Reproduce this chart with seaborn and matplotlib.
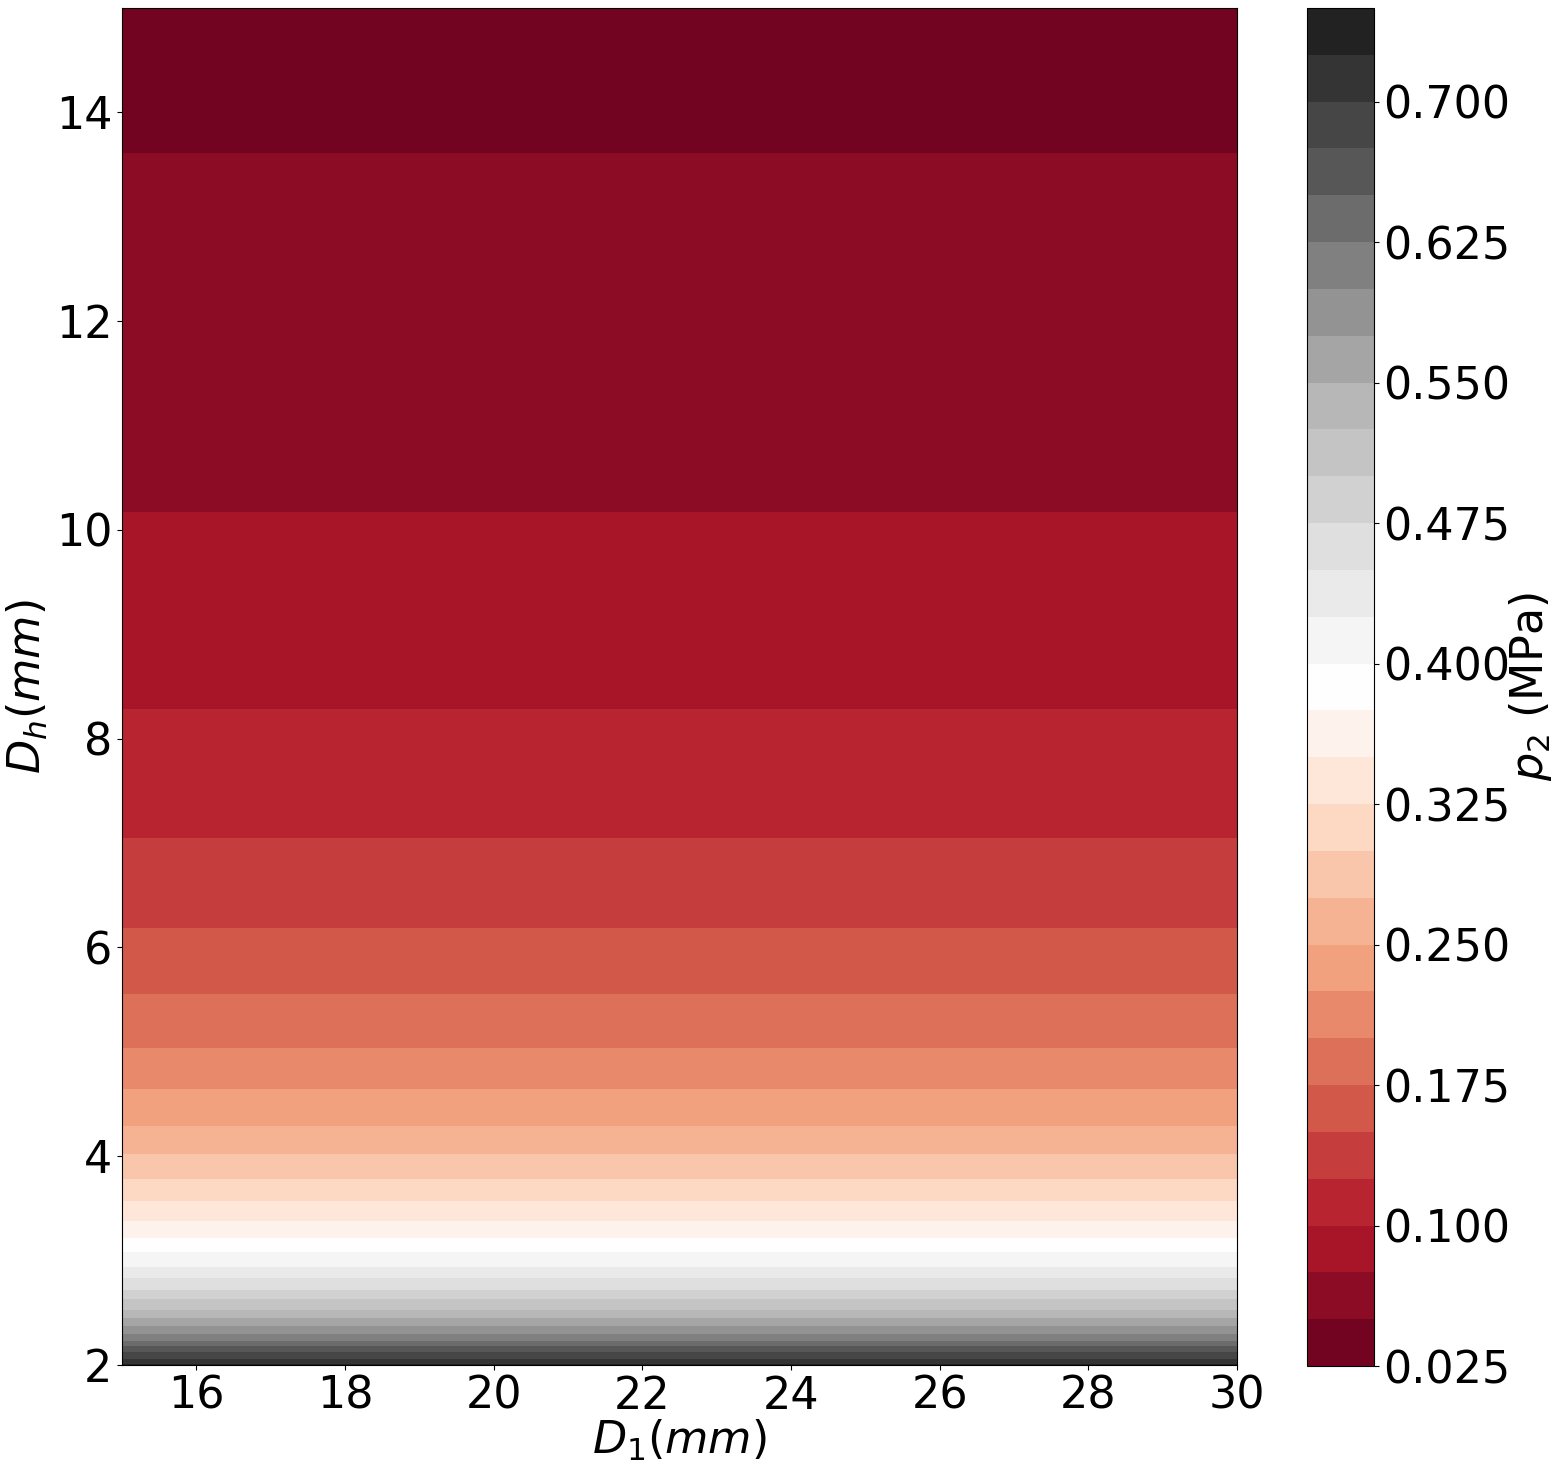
import numpy as np
import matplotlib
matplotlib.use("Agg")
import matplotlib.pyplot as plt
import seaborn as sns

# D1 axis extent (mm) - field does not vary along D1
d1_values = [15.0, 20.0, 25.0, 30.0]
dh_values = [2.00, 2.01, 2.06, 2.12, 2.18, 2.23, 2.30, 2.37, 2.45, 2.53, 2.63,
             2.72, 2.83, 2.94, 3.08, 3.22, 3.38, 3.57, 3.78, 4.02, 4.29,
             4.64, 5.04, 5.55, 6.19, 7.05, 8.28, 10.17, 13.61, 15.00]
p2_values = [0.730, 0.725, 0.700, 0.675, 0.650, 0.625, 0.600, 0.575, 0.550,
             0.525, 0.500, 0.475, 0.450, 0.425, 0.400, 0.375, 0.350, 0.325,
             0.300, 0.275, 0.250, 0.225, 0.200, 0.175, 0.150, 0.125, 0.100,
             0.075, 0.050, 0.0437]
level_min, level_max, level_step = 0.025, 0.75, 0.025
cbar_tick_values = [0.025, 0.100, 0.175, 0.250, 0.325, 0.400, 0.475, 0.550, 0.625, 0.700]

sns.set_style("ticks")
plt.rcParams['font.family'] = ['DejaVu Sans']
plt.rcParams['xtick.major.size'] = 3.5
plt.rcParams['ytick.major.size'] = 3.5
plt.rcParams['axes.linewidth'] = 0.8
for k in ['text.color', 'axes.labelcolor', 'xtick.color', 'ytick.color', 'axes.edgecolor']:
    plt.rcParams[k] = 'black'

levels = np.round(np.arange(level_min, level_max + level_step / 2, level_step), 4)
D1, DH = np.meshgrid(np.array(d1_values), np.array(dh_values))
Z = np.tile(np.array(p2_values)[:, None], (1, len(d1_values)))

cmap = sns.color_palette("RdGy", as_cmap=True)

fig = plt.figure(figsize=(15.68, 14.72), dpi=100)
ax = fig.add_axes([0.0778, 0.0727, 0.7111, 0.9219])
cax = fig.add_axes([0.8335, 0.0720, 0.0427, 0.9226])

cs = ax.contourf(D1, DH, Z, levels=levels, cmap=cmap)
ax.set_xlim(15, 30)
ax.set_ylim(2, 15)
ax.set_xticks([16, 18, 20, 22, 24, 26, 28, 30])
ax.set_yticks([2, 4, 6, 8, 10, 12, 14])
ax.tick_params(labelsize=32)
ax.set_xlabel(r"$D_1(mm)$", fontsize=32, labelpad=0)
ax.set_ylabel(r"$D_h(mm)$", fontsize=32, labelpad=4)
for s in ax.spines.values():
    s.set_visible(True)
    s.set_color("black")

cb = fig.colorbar(cs, cax=cax)
cb.set_ticks(cbar_tick_values)
cb.set_ticklabels([f"{v:.3f}" for v in cbar_tick_values])
cb.ax.tick_params(labelsize=32)
cb.set_label(r"$p_2$ (MPa)", fontsize=32, labelpad=-3)
cb.outline.set_linewidth(0.8)

fig.savefig("out.png", dpi=100)
